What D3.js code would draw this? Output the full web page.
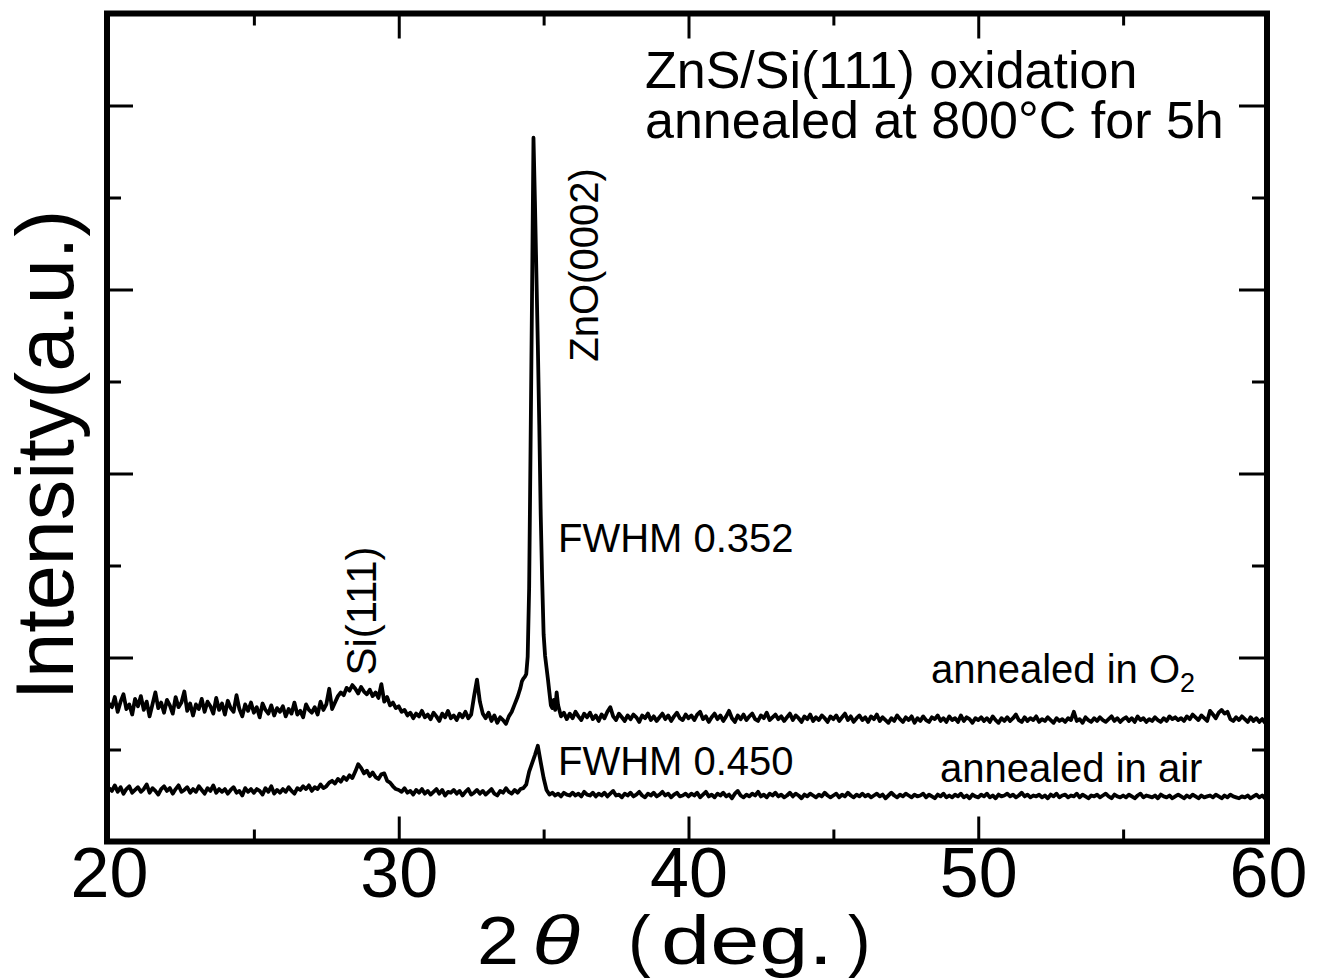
<!DOCTYPE html>
<html lang="en">
<head>
<meta charset="UTF-8">
<title>ZnS/Si(111) oxidation XRD</title>
<script src="https://cdnjs.cloudflare.com/ajax/libs/d3/7.8.5/d3.min.js"></script>
<style>
  body { margin: 0; background: #fff; }
  svg { display: block; font-family: "Liberation Sans", Arial, sans-serif; }
  .tick line { stroke: #000; stroke-width: 3px; }
  .trace { fill: none; stroke: #000; stroke-width: 3.8px; stroke-linejoin: round; }
</style>
</head>
<body>
<div id="chart"></div>
<script>
// scan: 20..60 deg, 0.1 deg step
const scanStart = 20, scanEnd = 60, scanStep = 0.1;

// annealed in O2 (0.1 deg step)
const o2Counts = [
  150,146,157,141,152,160,144,149,138,155,
  147,158,143,152,136,149,162,145,151,140,
  154,148,139,157,146,151,163,142,150,137,
  149,144,155,141,152,147,139,156,143,150,
  138,153,145,141,159,144,136,149,142,151,
  140,146,135,150,143,139,148,137,145,141,
  147,136,144,139,151,138,142,135,149,143,
  140,146,138,152,143,149,166,144,151,158,
  162,159,167,164,170,166,161,168,163,160,
  165,158,162,156,171,152,157,148,151,145,
  147,141,143,137,140,134,139,136,142,135,
  138,133,140,136,131,139,135,142,134,137,
  132,139,135,141,134,138,158,176,152,139,
  134,140,131,137,129,135,132,128,136,141,
  149,157,167,177,182,275,593,696,540,355,
  225,189,162,145,143,148,136,140,133,139,
  134,141,136,132,139,135,140,133,137,131,
  138,134,141,146,136,132,139,135,131,137,
  133,138,135,130,137,134,139,132,136,131,
  135,139,133,137,131,136,140,134,132,138,
  134,137,132,138,141,133,136,130,135,139,
  133,137,131,136,142,134,130,137,133,138,
  132,136,139,133,131,137,134,140,132,135,
  138,133,136,131,135,139,132,137,134,130,
  136,133,138,131,135,132,137,134,130,136,
  133,137,131,135,139,132,136,130,134,137,
  132,135,130,136,133,138,131,135,132,129,
  134,131,137,133,130,135,132,136,129,134,
  131,136,132,130,135,133,137,131,134,130,
  136,132,134,130,137,131,135,133,129,134,
  132,135,131,134,130,136,132,129,134,131,
  135,131,134,138,132,130,135,131,134,132,
  136,130,133,131,135,132,129,134,131,133,
  130,134,132,141,131,133,129,135,132,130,
  134,131,135,132,130,133,136,131,134,130,
  133,135,131,134,130,136,132,134,130,133,
  131,135,132,130,134,131,136,133,135,132,
  134,131,136,133,138,135,132,137,134,131,
  142,138,134,140,143,139,141,133,131,135,
  132,136,133,130,135,131,134,130,133,129,
  131
];

// ZnO(0002) region of the O2 scan, 0.05 deg step
const o2PeakTheta = [
  34.00,34.05,34.10,34.15,34.20,34.25,34.30,34.35,34.40,34.45,
  34.50,34.55,34.60,34.65,34.70,34.75,34.80,34.85,34.90,34.95,
  35.00,35.05,35.10,35.15,35.20,35.25,35.30,35.35,35.40,35.45,35.50
];
const o2PeakCounts = [
  149,153,157,162,167,174,177,179,182,201,
  275,431,593,765,696,618,540,453,355,284,
  225,202,189,176,162,148,145,154,143,162,148
];

// annealed in air (0.1 deg step)
const airCounts = [
  58,55,61,54,59,52,57,60,53,56,
  59,54,57,62,53,58,55,51,57,60,
  55,58,52,57,61,54,56,59,53,57,
  54,60,56,52,58,55,61,53,57,54,
  57,52,56,59,53,55,50,58,54,57,
  53,57,55,51,58,54,60,52,56,53,
  57,54,59,55,52,58,56,60,57,61,
  55,59,57,62,58,60,64,66,63,68,
  65,70,67,72,69,76,84,80,74,77,
  71,75,70,68,73,74,66,64,60,57,
  56,54,58,53,55,51,56,53,57,52,
  55,51,54,57,52,56,50,54,53,56,
  52,55,50,54,57,51,53,56,52,55,
  51,54,57,52,50,55,53,58,54,52,
  56,53,57,58,62,76,85,94,104,86,
  69,56,51,53,50,52,49,53,51,50,
  53,50,52,49,54,51,50,53,49,52,
  50,53,49,52,55,50,51,48,52,50,
  53,49,51,54,50,48,52,50,53,49,
  51,54,50,52,48,51,53,49,50,52,
  49,52,50,53,48,51,54,49,51,48,
  52,50,53,49,51,47,52,55,50,48,
  51,49,52,50,54,49,51,48,52,50,
  53,49,51,48,50,53,49,52,50,47,
  51,49,52,50,48,51,49,53,50,48,
  50,52,48,51,49,53,50,48,51,49,
  52,49,51,48,50,52,49,51,47,50,
  53,50,48,51,49,52,50,48,51,49,
  50,52,48,51,49,47,51,49,52,48,
  50,48,51,49,52,48,50,47,51,49,
  48,51,49,52,48,50,47,51,49,50,
  52,49,51,48,50,53,49,51,48,50,
  49,51,48,50,47,51,49,52,48,50,
  51,48,50,49,52,48,51,49,47,50,
  49,51,48,50,52,49,47,51,49,48,
  50,48,51,49,47,50,52,48,50,49,
  48,50,47,51,49,48,50,47,49,51,
  49,47,50,48,51,49,47,50,48,49,
  50,48,51,49,47,50,48,51,49,48,
  47,49,48,50,47,49,51,48,50,47,
  49
];

const xMajor = [20, 30, 40, 50, 60];
const xMinor = [25, 35, 45, 55];
const yMajor = [200, 400, 600, 800];
const yMinor = [100, 300, 500, 700];

const width = 1322, height = 980;
const plotLeft = 107, plotRight = 1267, plotTop = 13.5, plotBottom = 841.5;

const svg = d3.select("#chart").append("svg")
  .attr("width", width)
  .attr("height", height);

const x = d3.scaleLinear().domain([scanStart, scanEnd]).range([109, 1268]);
const y = d3.scaleLinear().domain([0, 900]).range([plotBottom, plotTop]);

const theta = i => +(scanStart + i * scanStep).toFixed(2);

// merge coarse + fine scan for the O2 trace
const o2Data = o2Counts.map((v, i) => [theta(i), v])
  .filter(d => d[0] < o2PeakTheta[0] - 0.01 || d[0] > o2PeakTheta[o2PeakTheta.length - 1] + 0.01)
  .concat(o2PeakTheta.map((t, i) => [t, o2PeakCounts[i]]))
  .sort((a, b) => a[0] - b[0]);
const airData = airCounts.map((v, i) => [theta(i), v]);

const line = d3.line().x(d => x(d[0])).y(d => y(d[1]));

svg.append("path").attr("class", "trace").attr("d", line(o2Data));
svg.append("path").attr("class", "trace").attr("d", line(airData));

// ticks, pointing inward on all four sides
function addAxis(axis, tx, ty) {
  const g = svg.append("g").attr("transform", `translate(${tx},${ty})`).call(axis);
  g.select(".domain").remove();
  g.selectAll("text").remove();
  return g;
}
addAxis(d3.axisBottom(x).tickValues(xMajor.slice(1, -1)).tickSize(-25), 0, plotBottom);
addAxis(d3.axisBottom(x).tickValues(xMinor).tickSize(-12), 0, plotBottom);
addAxis(d3.axisTop(x).tickValues(xMajor.slice(1, -1)).tickSize(-25), 0, plotTop);
addAxis(d3.axisTop(x).tickValues(xMinor).tickSize(-12), 0, plotTop);
addAxis(d3.axisLeft(y).tickValues(yMajor).tickSize(-26), plotLeft, 0);
addAxis(d3.axisLeft(y).tickValues(yMinor).tickSize(-14), plotLeft, 0);
addAxis(d3.axisRight(y).tickValues(yMajor).tickSize(-28), plotRight, 0);
addAxis(d3.axisRight(y).tickValues(yMinor).tickSize(-15), plotRight, 0);

// tick labels
const xLabels = svg.append("g").attr("transform", `translate(0,${plotBottom})`)
  .call(d3.axisBottom(x).tickValues(xMajor).tickSize(0).tickPadding(6).tickFormat(d3.format("d")));
xLabels.select(".domain").remove();
xLabels.selectAll("text").attr("font-size", 70).attr("fill", "#000")
  .attr("font-family", "'Liberation Sans', Arial, sans-serif");

// frame
svg.append("rect")
  .attr("x", plotLeft).attr("y", plotTop)
  .attr("width", plotRight - plotLeft).attr("height", plotBottom - plotTop)
  .attr("fill", "none").attr("stroke", "#000").attr("stroke-width", 6);

// axis titles
const xt = svg.append("text").attr("y", 964).attr("font-size", 68).attr("fill", "#000");
xt.append("tspan").attr("x", 477).attr("textLength", 42).attr("lengthAdjust", "spacingAndGlyphs").text("2");
xt.append("tspan").attr("x", 532).attr("font-style", "italic")
  .attr("textLength", 48).attr("lengthAdjust", "spacingAndGlyphs").text("θ");
xt.append("tspan").attr("x", 628).text("(");
xt.append("tspan").attr("x", 661).attr("textLength", 172).attr("lengthAdjust", "spacingAndGlyphs").text("deg.");
xt.append("tspan").attr("x", 848).text(")");

svg.append("text")
  .attr("transform", "translate(73,455) rotate(-90)")
  .attr("text-anchor", "middle")
  .attr("font-size", 81)
  .text("Intensity(a.u.)");

// annotations
svg.append("text").attr("x", 645).attr("y", 88).attr("font-size", 52)
  .text("ZnS/Si(111) oxidation");
svg.append("text").attr("x", 645).attr("y", 138).attr("font-size", 52)
  .text("annealed at 800°C for 5h");

svg.append("text").attr("x", 558).attr("y", 552).attr("font-size", 40).text("FWHM 0.352");
svg.append("text").attr("x", 558).attr("y", 775).attr("font-size", 40).text("FWHM 0.450");

svg.append("text")
  .attr("transform", "translate(598,265) rotate(-90)")
  .attr("text-anchor", "middle").attr("font-size", 40)
  .text("ZnO(0002)");
svg.append("text")
  .attr("transform", "translate(376,611) rotate(-90)")
  .attr("text-anchor", "middle").attr("font-size", 42)
  .text("Si(111)");

const o2Label = svg.append("text").attr("x", 931).attr("y", 683).attr("font-size", 40);
o2Label.append("tspan").text("annealed in O");
o2Label.append("tspan").attr("dy", 9).attr("font-size", 27).text("2");

svg.append("text").attr("x", 940).attr("y", 782).attr("font-size", 40).text("annealed in air");
</script>
</body>
</html>
